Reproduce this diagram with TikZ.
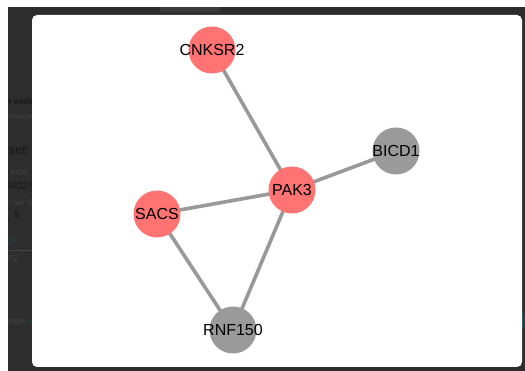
\documentclass[tikz,border=0pt]{standalone}
\usepackage{fontspec}
\setmainfont{Liberation Sans}
\definecolor{pagedark}{HTML}{2D2D2D}
\definecolor{tabbar}{HTML}{383C3E}
\definecolor{dimtext}{HTML}{161616}
\definecolor{dimlight}{HTML}{434343}
\definecolor{dimteal}{HTML}{1C4448}
\definecolor{hitred}{HTML}{FF7373}
\definecolor{plaingray}{HTML}{9A9A9A}
\definecolor{edgegray}{HTML}{999999}
\pgfdeclarelayer{backdrop}
\pgfdeclarelayer{edges}
\pgfsetlayers{backdrop,edges,main}
\newcommand{\genename}[1]{\makebox[0pt]{#1}}
\tikzset{
  gene/.style={circle, minimum size=47pt, inner sep=0pt, draw=none,
    font=\fontsize{16}{16}\selectfont, text=black},
  hit/.style={gene, fill=hitred},
  other/.style={gene, fill=plaingray},
  link/.style={draw=edgegray, line width=3.6pt},
  behind/.style={anchor=base west, inner sep=0pt},
}
\begin{document}
\begin{tikzpicture}[x=1pt,y=-1pt]
\useasboundingbox (0,0) rectangle (525,371);
\begin{pgfonlayer}{backdrop}
\fill[white] (0,0) rectangle (525,371);
% dimmed page behind the dialog
\fill[pagedark] (8,7) rectangle (525,371);
\fill[tabbar] (160,7) rectangle (220,12);
\fill[dimteal] (522,313) rectangle (525,328);
\begin{scope}
  \clip (8,0) rectangle (32,371);
  \node[behind, text=dimtext, font=\fontsize{8.5}{9}\selectfont\bfseries] (t1) at (6,105) {n enrich};
  \node[behind, text=dimlight, font=\fontsize{8}{9}\selectfont] (t2) at (7,120) {RNASeq};
  \node[behind, text=dimtext, font=\fontsize{12.5}{13}\selectfont] (t3) at (9,155) {set: \textcolor{dimteal}{T}};
  \node[behind, text=dimlight, font=\fontsize{8}{9}\selectfont] (t4) at (11,176) {FDR};
  \node[behind, text=dimtext, font=\fontsize{10}{11}\selectfont] (t5) at (5,190) {040276};
  \node[behind, text=dimlight, font=\fontsize{8}{9}\selectfont] (t6) at (6,206) {e Set Si};
  \node[behind, text=dimtext, font=\fontsize{9}{10}\selectfont] (t7) at (14,219) {5};
  \node[behind, text=dimteal, font=\fontsize{9}{10}\selectfont\bfseries] (t8) at (8,245) {D {\normalfont\fontsize{7}{8}\selectfont ÷}};
  \draw[dimlight, line width=0.6pt] (8,250) -- (32,250);
  \node[behind, text=dimlight, font=\fontsize{8.5}{9}\selectfont] (t9) at (7,262) {R2};
  \node[behind, text=dimlight, font=\fontsize{8}{9}\selectfont] (t10) at (8,324) {page \textcolor{dimteal}{v}};
\end{scope}
% dialog panel
\fill[white, rounded corners=5pt] (32,15) rectangle (522,367);
\end{pgfonlayer}
% network nodes
\node[hit]   (cnksr2) at (212,50)  {\genename{CNKSR2}};
\node[hit]   (pak3)   at (292,190) {\genename{PAK3}};
\node[other] (bicd1)  at (396,151) {\genename{BICD1}};
\node[hit]   (sacs)   at (157,214) {\genename{SACS}};
\node[other] (rnf150) at (233,330) {\genename{RNF150}};
% interactions
\begin{pgfonlayer}{edges}
  \draw[link] (cnksr2.center) -- (pak3.center);
  \draw[link] (pak3.center) -- (bicd1.center);
  \draw[link] (pak3.center) -- (sacs.center);
  \draw[link] (pak3.center) -- (rnf150.center);
  \draw[link] (sacs.center) -- (rnf150.center);
\end{pgfonlayer}
\end{tikzpicture}
\end{document}
